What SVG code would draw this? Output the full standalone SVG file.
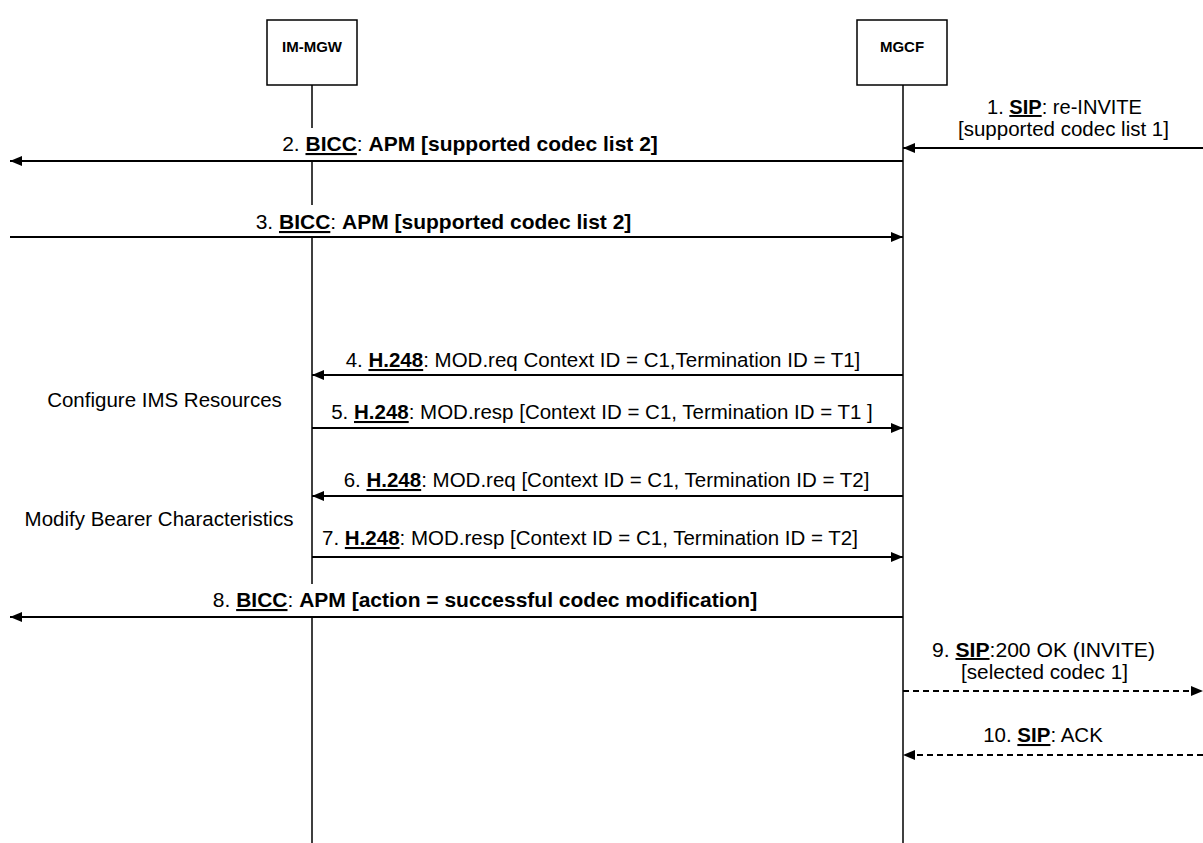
<svg xmlns="http://www.w3.org/2000/svg" width="1203" height="843" viewBox="0 0 1203 843">
<style>
text{font-family:"Liberation Sans",Arial,sans-serif;fill:#000}
.t{font-size:20.5px}
.t2{font-size:19.5px}
.bi{font-size:21px}
.nl{font-size:15px;font-weight:bold}
.b{font-weight:bold}
.u{text-decoration:underline}
.box{fill:#fff;stroke:#000;stroke-width:1.5}
.life{stroke:#000;stroke-width:1.5;fill:none}
.msg{stroke:#000;stroke-width:2;fill:none}
.dash{stroke-dasharray:6 4}
</style>
<defs>
<marker id="ah" markerUnits="userSpaceOnUse" markerWidth="13" markerHeight="11" refX="12" refY="5" orient="auto">
<path d="M0,0 L12,5 L0,10 z" fill="#000"/>
</marker>
</defs>
<rect width="1203" height="843" fill="#fff"/>

<g id="node-im-mgw">
<rect class="box" x="267" y="20" width="90" height="65"/>
<text class="nl" x="312" y="52" text-anchor="middle">IM-MGW</text>
<path class="life" d="M312,85 V128 M312,160 V205 M312,237 V584 M312,617 V843"/>
</g>

<g id="node-mgcf">
<rect class="box" x="857" y="20" width="90" height="65"/>
<text class="nl" x="902" y="52" text-anchor="middle">MGCF</text>
<path class="life" d="M903,85 V843"/>
</g>

<g id="notes">
<text class="t" x="164.5" y="407" text-anchor="middle">Configure IMS  Resources</text>
<text class="t" x="159" y="526" text-anchor="middle">Modify Bearer Characteristics</text>
</g>

<g id="connectors">
<g id="m1">
<line class="msg" x1="1203" y1="148" x2="903" y2="148" marker-end="url(#ah)"/>
<text class="t2" text-anchor="middle" textLength="155" lengthAdjust="spacingAndGlyphs" x="1064.5" y="114">1. <tspan class="b u">SIP</tspan>: re-INVITE</text>
<text class="t2" text-anchor="middle" textLength="211" lengthAdjust="spacingAndGlyphs" x="1063.5" y="136">[supported codec list 1]</text>
</g>
<g id="m2">
<line class="msg" x1="903" y1="161" x2="10" y2="161" marker-end="url(#ah)"/>
<text class="bi" x="470" y="151" text-anchor="middle">2. <tspan class="b u">BICC</tspan>: <tspan class="b">APM [supported codec list 2]</tspan></text>
</g>
<g id="m3">
<line class="msg" x1="10" y1="237" x2="903" y2="237" marker-end="url(#ah)"/>
<text class="bi" x="443.5" y="229" text-anchor="middle">3. <tspan class="b u">BICC</tspan>: <tspan class="b">APM [supported codec list 2]</tspan></text>
</g>
<g id="m4">
<line class="msg" x1="903" y1="375" x2="312" y2="375" marker-end="url(#ah)"/>
<text class="t" x="603" y="367" text-anchor="middle">4. <tspan class="b u">H.248</tspan>: MOD.req Context ID = C1,Termination ID = T1]</text>
</g>
<g id="m5">
<line class="msg" x1="312" y1="428" x2="903" y2="428" marker-end="url(#ah)"/>
<text class="t" x="602" y="419" text-anchor="middle">5. <tspan class="b u">H.248</tspan>: MOD.resp [Context ID = C1, Termination ID = T1 ]</text>
</g>
<g id="m6">
<line class="msg" x1="903" y1="496" x2="312" y2="496" marker-end="url(#ah)"/>
<text class="t" x="606.5" y="487" text-anchor="middle">6. <tspan class="b u">H.248</tspan>: MOD.req [Context ID = C1, Termination ID = T2]</text>
</g>
<g id="m7">
<line class="msg" x1="312" y1="557" x2="903" y2="557" marker-end="url(#ah)"/>
<text class="t" x="590" y="545" text-anchor="middle">7. <tspan class="b u">H.248</tspan>: MOD.resp [Context ID = C1, Termination ID = T2]</text>
</g>
<g id="m8">
<line class="msg" x1="903" y1="617" x2="10" y2="617" marker-end="url(#ah)"/>
<text class="bi" x="485" y="607" text-anchor="middle">8. <tspan class="b u">BICC</tspan>: <tspan class="b">APM [action = successful codec modification]</tspan></text>
</g>
<g id="m9">
<line class="msg dash" x1="903" y1="691" x2="1203" y2="691" marker-end="url(#ah)"/>
<text class="t2" text-anchor="middle" textLength="223" lengthAdjust="spacingAndGlyphs" x="1043.5" y="657">9. <tspan class="b u">SIP</tspan>:200 OK (INVITE)</text>
<text class="t2" text-anchor="middle" textLength="167" lengthAdjust="spacingAndGlyphs" x="1044.5" y="679">[selected codec 1]</text>
</g>
<g id="m10">
<line class="msg dash" x1="1203" y1="755" x2="903" y2="755" marker-end="url(#ah)"/>
<text class="t" x="1043" y="742" text-anchor="middle">10. <tspan class="b u">SIP</tspan>: ACK</text>
</g>
</g>
</svg>
